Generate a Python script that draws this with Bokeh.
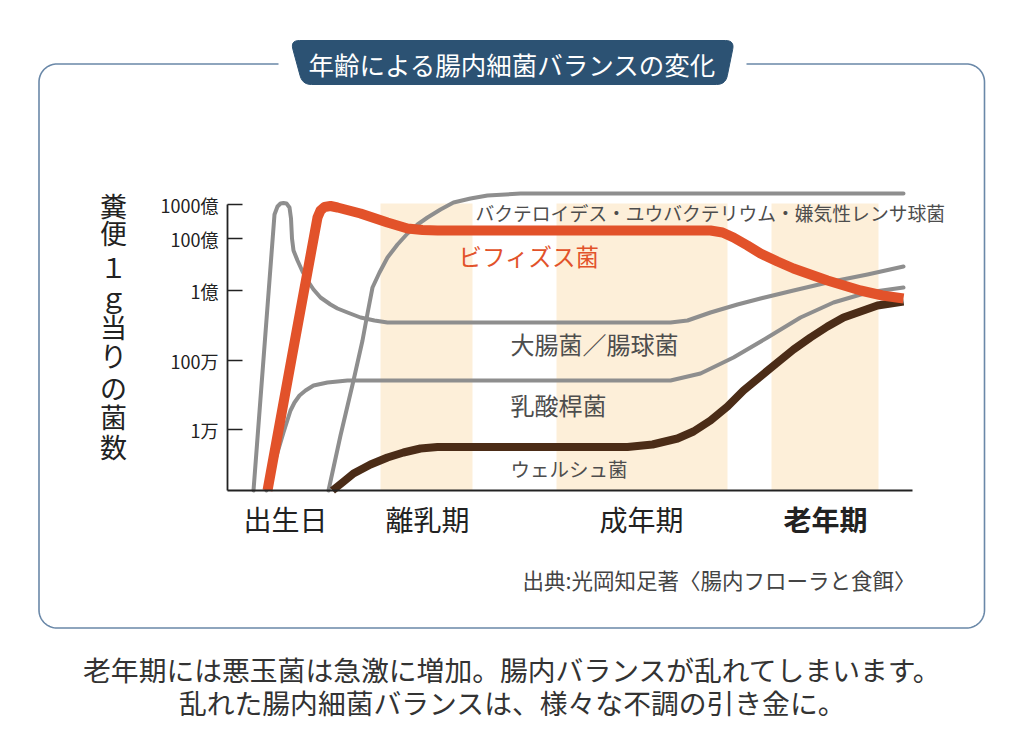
import numpy as np
from bokeh.plotting import figure
from bokeh.models import Range1d
from bokeh.core.properties import value
from bokeh.embed import file_html
from bokeh.resources import INLINE

# ---------------- data (age axis in chart units, level axis in chart units) ----------------
ecoli_x = [26, 47, 50, 53, 56, 59, 62, 63.5, 64.5, 66, 70, 75, 80, 86, 93, 103, 110, 120, 133, 147, 160, 180, 330, 443, 460, 483, 510, 533, 566, 600, 640, 676]
ecoli_y = [0, 276, 284, 287, 287.5, 287, 283, 272, 252, 240, 230, 219, 210, 201, 193, 186, 182, 178, 173, 170, 168, 168, 168, 168, 170, 178, 186, 192, 200, 208, 216, 224]

lacto_x = [39, 50, 56, 63, 67, 72, 78, 86, 100, 120, 173, 443, 473, 506, 540, 573, 606, 640, 676]
lacto_y = [0, 38, 58, 80, 88, 95, 100, 105, 108, 110, 110, 110, 117, 133, 153, 173, 188, 198, 203]

bact_x = [101, 113, 126, 135, 140, 145, 152, 160, 170, 180, 190, 200, 213, 226, 243, 260, 293, 676]
bact_y = [0, 55, 110, 150, 177, 203, 218, 233, 246, 257, 266, 273, 281, 288, 292, 295, 297, 297]

bifi_x = [40, 65, 90, 93, 97, 103, 110, 133, 160, 180, 195, 210, 483, 495, 506, 520, 533, 550, 566, 583, 600, 633, 655, 676]
bifi_y = [0, 137, 273, 280, 283.5, 284.5, 283, 277, 268, 262, 260.5, 260, 260, 258, 253, 245, 237, 229, 222, 216, 210, 200, 195, 192]

welch_x = [105, 115, 126, 143, 160, 176, 193, 210, 400, 425, 450, 466, 483, 500, 516, 533, 550, 566, 583, 600, 616, 633, 650, 676]
welch_y = [0, 8, 17, 26, 33, 38, 42, 43.5, 43.5, 46, 52, 59, 70, 84, 100, 114, 128, 141, 153, 164, 173, 179, 185, 189]

# life stages (shaded bands) and x tick labels
band_left = [153, 329, 544]
band_right = [245, 500, 651]
band_top = 287
stage_labels = ["出生日", "離乳期", "成年期", "老年期"]
stage_x = [58, 200, 414, 598]
stage_bold = ["normal", "normal", "normal", "bold"]

# y ticks
ytick_labels = ["1000億", "100億", "1億", "100万", "1万"]
ytick_levels = [286, 252, 200, 130, 61]
x_axis_end = 685

# series labels
series_names = ["バクテロイデス・ユウバクテリウム・嫌気性レンサ球菌", "ビフィズス菌", "大腸菌／腸球菌", "乳酸桿菌", "ウェルシュ菌"]
series_lx = [248, 231, 283, 283, 283]
series_ly = [278, 235, 147, 86, 22]
series_size = ["18.8px", "23.5px", "24px", "24px", "19.5px"]
series_color = ["#4d4d4d", "#e2522a", "#4d4d4d", "#4d4d4d", "#4d4d4d"]

title = "年齢による腸内細菌バランスの変化"
ytitle = "糞便１ｇ当りの菌数"
source_text = "出典:光岡知足著〈腸内フローラと食餌〉"
footer = ["老年期には悪玉菌は急激に増加。腸内バランスが乱れてしまいます。",
          "乱れた腸内細菌バランスは、様々な不調の引き金に。"]

FONT = value("Noto Sans CJK JP")
GRAY = "#8e8e8e"
ORANGE = "#e2522a"
BROWN = "#4b2c17"
BAND = "#fdefd9"
NAVY = "#2c5273"
FRAME = "#6a88a8"
INK = "#222222"

W, H = 1024, 749
p = figure(width=W, height=H, x_range=Range1d(0, W), y_range=Range1d(H, 0),
           output_backend="svg", toolbar_location=None, min_border=0,
           x_axis_location=None, y_axis_location=None)
p.grid.visible = False
p.outline_line_color = None
p.background_fill_color = "white"
p.border_fill_color = "white"

# chart coordinate system: chart origin at pixel (227, 490)
p.extra_x_ranges = {"age": Range1d(-227, W - 227)}
p.extra_y_ranges = {"lvl": Range1d(490 - H, 490)}
D = dict(x_range_name="age", y_range_name="lvl")

# ---------------- decorations: frame & title pill ----------------
def frame_path(x0, y0, x1, y1, r, gap_l, gap_r, n=20):
    xs, ys = [gap_r], [y0]
    def arc(cx, cy, t0, t1):
        t = np.linspace(t0, t1, n)
        xs.extend(cx + r * np.cos(t)); ys.extend(cy + r * np.sin(t))
    arc(x1 - r, y0 + r, -np.pi / 2, 0)
    arc(x1 - r, y1 - r, 0, np.pi / 2)
    arc(x0 + r, y1 - r, np.pi / 2, np.pi)
    arc(x0 + r, y0 + r, np.pi, 1.5 * np.pi)
    xs.append(gap_l); ys.append(y0)
    return xs, ys

fx, fy = frame_path(38.5, 63.5, 984, 627.5, 18, 278, 746)
p.line(fx, fy, line_color=FRAME, line_width=1.6)

def rounded_poly(verts, r, n=8):
    xs, ys = [], []
    m = len(verts)
    for i in range(m):
        P = np.array(verts[i - 1], float); V = np.array(verts[i], float); N = np.array(verts[(i + 1) % m], float)
        A = V + (P - V) / np.linalg.norm(P - V) * r
        B = V + (N - V) / np.linalg.norm(N - V) * r
        t = np.linspace(0, 1, n)[:, None]
        pts = (1 - t) ** 2 * A + 2 * (1 - t) * t * V + t ** 2 * B
        xs.extend(pts[:, 0]); ys.extend(pts[:, 1])
    return xs, ys

px_, py_ = rounded_poly([(290, 40), (734, 40), (725, 84), (302, 84)], 9)
p.patch(px_, py_, fill_color=NAVY, line_color=NAVY)
p.text(x=[512], y=[63], text=[title], text_font=FONT, text_font_size="25.5px",
       text_color="white", text_align="center", text_baseline="middle")

# ---------------- chart ----------------
p.quad(left=band_left, right=band_right, bottom=[0] * 3, top=[band_top] * 3,
       fill_color=BAND, line_color=None, **D)

for xs, ys in [(ecoli_x, ecoli_y), (lacto_x, lacto_y), (bact_x, bact_y)]:
    p.line(xs, ys, line_color=GRAY, line_width=4, line_join="round", line_cap="round", **D)
p.line(welch_x, welch_y, line_color=BROWN, line_width=8, line_join="round", **D)
p.line(bifi_x, bifi_y, line_color=ORANGE, line_width=10, line_join="round", **D)

# axes
p.segment(x0=[0, 0], y0=[0, 0], x1=[0, x_axis_end], y1=[max(ytick_levels), 0],
          line_color=INK, line_width=1.8, **D)
p.segment(x0=[0] * 5, y0=ytick_levels, x1=[15] * 5, y1=ytick_levels,
          line_color=INK, line_width=1.6, **D)
p.text(x=[-9] * 5, y=ytick_levels, text=ytick_labels, text_font=FONT, text_font_size="18px",
       text_color=INK, text_align="right", text_baseline="middle", **D)

for lab, x, st in zip(stage_labels, stage_x, stage_bold):
    p.text(x=[x], y=[-28], text=[lab], text_font=FONT, text_font_size="28px",
           text_font_style=st, text_color=INK, text_align="center", text_baseline="middle", **D)

for name, x, y, s, c in zip(series_names, series_lx, series_ly, series_size, series_color):
    p.text(x=[x], y=[y], text=[name], text_font=FONT, text_font_size=s, text_color=c,
           text_align="left", text_baseline="middle", **D)

# y-axis title, written vertically
ychar_y = [205, 232, 266, 296, 326, 355, 387, 416, 446]
p.text(x=[113] * len(ytitle), y=ychar_y, text=list(ytitle), text_font=FONT,
       text_font_size="27px", text_color=INK, text_align="center", text_baseline="middle")

p.text(x=[915], y=[579], text=[source_text], text_font=FONT, text_font_size="21.5px",
       text_color="#444444", text_align="right", text_baseline="middle")

p.text(x=[512, 512], y=[668, 701], text=footer, text_font=FONT, text_font_size="27.8px",
       text_color="#333333", text_align="center", text_baseline="middle")

open("out.html", "w").write(file_html(p, INLINE))
